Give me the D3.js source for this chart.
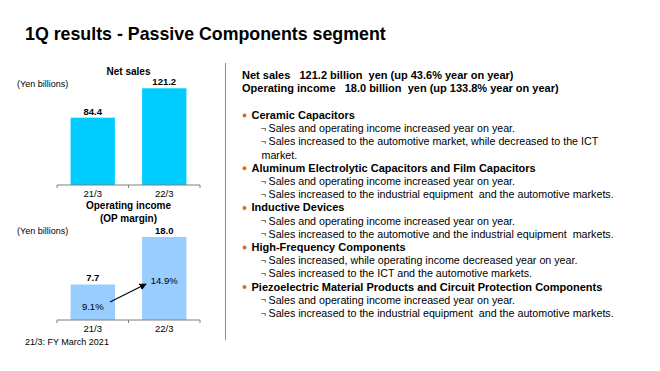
<!DOCTYPE html>
<html>
<head>
<meta charset="utf-8">
<script src="https://cdn.jsdelivr.net/npm/d3@7"></script>
<style>
  body { margin: 0; background: #fff; }
  text { font-family: Arial, "Liberation Sans", sans-serif; fill: #000; }
</style>
</head>
<body>
<div id="chart"></div>
<script>
// chart data
let years = ['21/3', '22/3'];
let netSales = [84.4, 121.2];
let opIncome = [7.7, 18.0];
let opMargin = [9.1, 14.9];

// text on the right
let summaryLines = [
  'Net sales\u00a0\u00a0\u00a0121.2 billion\u00a0 yen (up 43.6% year on year)',
  'Operating income\u00a0\u00a0\u00a018.0 billion\u00a0 yen (up 133.8% year on year)'
];
let sections = [
  ['Ceramic Capacitors',
    ['Sales and operating income increased year on year.',
     ['Sales increased to the automotive market, while decreased to the ICT', 'market.']]],
  ['Aluminum Electrolytic Capacitors and Film Capacitors',
    ['Sales and operating income increased year on year.',
     'Sales increased to the industrial equipment\u00a0 and the automotive markets.']],
  ['Inductive Devices',
    ['Sales and operating income increased year on year.',
     'Sales increased to the automotive and the industrial equipment\u00a0 markets.']],
  ['High-Frequency Components',
    ['Sales increased, while operating income decreased year on year.',
     'Sales increased to the ICT and the automotive markets.']],
  ['Piezoelectric Material Products and Circuit Protection Components',
    ['Sales and operating income increased year on year.',
     'Sales increased to the industrial equipment\u00a0 and the automotive markets.']]
];

let svgWidth = 660;
let svgHeight = 371;

let svg = d3.select('#chart').append('svg')
  .attr('width', svgWidth)
  .attr('height', svgHeight);

// title
svg.append('text')
  .attr('x', 25)
  .attr('y', 40)
  .attr('font-size', '17.8px')
  .attr('font-weight', 'bold')
  .text('1Q results - Passive Components segment');

// divider
svg.append('line')
  .attr('x1', 225.5).attr('x2', 225.5)
  .attr('y1', 63).attr('y2', 340)
  .attr('stroke', '#8c8c8c')
  .attr('stroke-width', 1);

// shared x scale for both bar charts
let xScale = d3.scaleBand()
  .domain(years)
  .range([57, 200])
  .paddingInner(0.38)
  .paddingOuter(0.19);

function drawAxis(baseY) {
  let g = svg.append('g')
    .attr('transform', `translate(0, ${baseY})`);
  g.append('line')
    .attr('x1', 57).attr('x2', 200)
    .attr('stroke', '#7f7f7f');
  [57, 128.5, 200].forEach(function(x) {
    g.append('line')
      .attr('x1', x).attr('x2', x)
      .attr('y1', 0).attr('y2', 3)
      .attr('stroke', '#7f7f7f');
  });
  g.selectAll('.tickLab')
    .data(years)
    .enter()
    .append('text')
    .attr('x', d => xScale(d) + xScale.bandwidth() / 2)
    .attr('y', 12)
    .attr('text-anchor', 'middle')
    .attr('font-size', '9.5px')
    .text(d => d);
}

// ---- net sales chart ----
let salesBase = 185;
let ySales = d3.scaleLinear().domain([0, 121.2]).range([salesBase, 88.3]);

svg.append('text')
  .attr('x', 128.5).attr('y', 75)
  .attr('text-anchor', 'middle')
  .attr('font-size', '10px')
  .attr('font-weight', 'bold')
  .text('Net sales');
svg.append('text')
  .attr('x', 17).attr('y', 86.5)
  .attr('font-size', '9px')
  .text('(Yen billions)');

svg.selectAll('.salesBar')
  .data(netSales)
  .enter()
  .append('rect')
  .attr('x', (d, i) => xScale(years[i]))
  .attr('y', d => ySales(d))
  .attr('width', xScale.bandwidth())
  .attr('height', d => salesBase - ySales(d))
  .attr('fill', '#00ccff');

svg.selectAll('.salesVal')
  .data(netSales)
  .enter()
  .append('text')
  .attr('x', (d, i) => xScale(years[i]) + xScale.bandwidth() / 2)
  .attr('y', d => ySales(d) - 3)
  .attr('text-anchor', 'middle')
  .attr('font-size', '9.5px')
  .attr('font-weight', 'bold')
  .text(d => d.toFixed(1));

drawAxis(salesBase);

// ---- operating income chart ----
let opBase = 320;
let yOp = d3.scaleLinear().domain([0, 18]).range([opBase, 237]);

svg.append('text')
  .attr('x', 128.5).attr('y', 209)
  .attr('text-anchor', 'middle')
  .attr('font-size', '10px')
  .attr('font-weight', 'bold')
  .text('Operating income');
svg.append('text')
  .attr('x', 128.5).attr('y', 221.5)
  .attr('text-anchor', 'middle')
  .attr('font-size', '10px')
  .attr('font-weight', 'bold')
  .text('(OP margin)');
svg.append('text')
  .attr('x', 17).attr('y', 234)
  .attr('font-size', '9px')
  .text('(Yen billions)');

svg.selectAll('.opBar')
  .data(opIncome)
  .enter()
  .append('rect')
  .attr('x', (d, i) => xScale(years[i]))
  .attr('y', d => yOp(d))
  .attr('width', xScale.bandwidth())
  .attr('height', d => opBase - yOp(d))
  .attr('fill', '#99ccff');

svg.selectAll('.opVal')
  .data(opIncome)
  .enter()
  .append('text')
  .attr('x', (d, i) => xScale(years[i]) + xScale.bandwidth() / 2)
  .attr('y', d => yOp(d) - 3)
  .attr('text-anchor', 'middle')
  .attr('font-size', '9.5px')
  .attr('font-weight', 'bold')
  .text(d => d.toFixed(1));

// margin labels
let marginY = [309.5, 284];
svg.selectAll('.marginLab')
  .data(opMargin)
  .enter()
  .append('text')
  .attr('x', (d, i) => xScale(years[i]) + xScale.bandwidth() / 2)
  .attr('y', (d, i) => marginY[i])
  .attr('text-anchor', 'middle')
  .attr('font-size', '9.5px')
  .attr('fill', '#404040')
  .text(d => d.toFixed(1) + '%');

// arrow between margins
svg.append('defs').append('marker')
  .attr('id', 'arrowHead')
  .attr('viewBox', '0 0 10 10')
  .attr('refX', 9).attr('refY', 5)
  .attr('markerWidth', 6).attr('markerHeight', 6)
  .attr('orient', 'auto')
  .append('path')
  .attr('d', 'M0,0 L10,5 L0,10 z')
  .attr('fill', '#000');
svg.append('line')
  .attr('x1', 110).attr('y1', 302)
  .attr('x2', 146).attr('y2', 284)
  .attr('stroke', '#000')
  .attr('stroke-width', 1.2)
  .attr('marker-end', 'url(#arrowHead)');

drawAxis(opBase);

svg.append('text')
  .attr('x', 25).attr('y', 345)
  .attr('font-size', '9px')
  .text('21/3: FY March 2021');

// ---- right side text ----
let right = svg.append('g');
summaryLines.forEach(function(s, i) {
  right.append('text')
    .attr('x', 242)
    .attr('y', 79 + i * 13)
    .attr('font-size', '11px')
    .attr('font-weight', 'bold')
    .text(s);
});

let lineY = 119;
let step = 13.2;
sections.forEach(function(sec) {
  right.append('circle')
    .attr('cx', 244.5).attr('cy', lineY - 3.5)
    .attr('r', 2)
    .attr('fill', '#e36c09');
  right.append('text')
    .attr('x', 251.5).attr('y', lineY)
    .attr('font-size', '11px')
    .attr('font-weight', 'bold')
    .text(sec[0]);
  lineY += step;
  sec[1].forEach(function(item) {
    let parts = Array.isArray(item) ? item : [item];
    parts.forEach(function(p, j) {
      if (j === 0) {
        right.append('text')
          .attr('x', 260.5).attr('y', lineY - 0.5)
          .attr('font-size', '9.5px')
          .text('\u00ac');
      }
      right.append('text')
        .attr('x', j === 0 ? 268.5 : 261.5).attr('y', lineY)
        .attr('font-size', '10.7px')
        .text(p);
      lineY += step;
    });
  });
});
</script>
</body>
</html>
